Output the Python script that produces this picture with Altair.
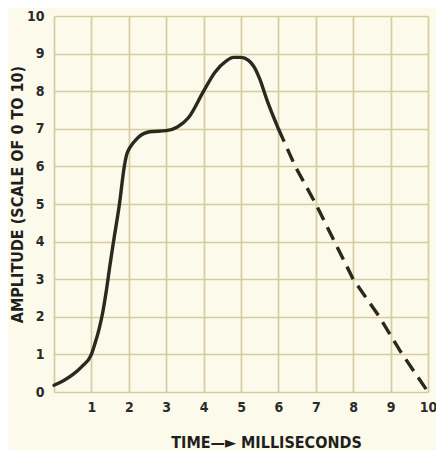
import altair as alt
import pandas as pd

# Solid portion of the waveform (time in ms, amplitude 0-10)
solid_t = [0.0, 0.25, 0.5, 0.75, 1.0, 1.1, 1.2, 1.3, 1.4, 1.5, 1.6, 1.75, 1.88, 1.94,
           2.0, 2.1, 2.25, 2.56, 3.0, 3.3, 3.6, 4.0, 4.3, 4.6, 4.8, 5.0, 5.2, 5.35,
           5.5, 5.7, 6.0]
solid_a = [0.18, 0.3, 0.46, 0.68, 1.0, 1.3, 1.65, 2.1, 2.7, 3.4, 4.05, 5.0, 6.0, 6.3,
           6.45, 6.6, 6.77, 6.92, 6.95, 7.05, 7.3, 8.0, 8.5, 8.8, 8.9, 8.9, 8.82, 8.65,
           8.33, 7.75, 7.0]

# Dashed (extrapolated) portion
dash_t = [6.0, 6.45, 7.0, 7.5, 8.0, 8.7, 9.25, 10.0]
dash_a = [7.0, 6.0, 5.0, 4.0, 3.0, 2.0, 1.1, 0.0]

x_ticks = [0, 1, 2, 3, 4, 5, 6, 7, 8, 9, 10]
y_ticks = [0, 1, 2, 3, 4, 5, 6, 7, 8, 9, 10]

x_title = "TIME\u2014\u25BA MILLISECONDS"
y_title = "AMPLITUDE (SCALE OF 0 TO 10)"

solid = pd.DataFrame({"t": solid_t, "a": solid_a})
dashed = pd.DataFrame({"t": dash_t, "a": dash_a})

FONT = "DejaVu Sans Condensed"
INK = "#2a291f"
GRID = "#d6cca0"
BG = "#fcfaea"

x_enc = alt.X(
    "t:Q",
    scale=alt.Scale(domain=[0, 10], nice=False, zero=False),
    axis=alt.Axis(
        values=x_ticks,
        labelExpr="datum.value == 0 ? '' : datum.label",
        title=x_title,
        titleX=212, titleY=50, titleAlign="center", titleBaseline="middle",
        labelPadding=8,
    ),
)
y_enc = alt.Y(
    "a:Q",
    scale=alt.Scale(domain=[0, 10], nice=False),
    axis=alt.Axis(
        values=y_ticks,
        title=y_title,
        titleX=-37, titleY=178, titleAngle=270, titleAlign="center", titleBaseline="middle",
        labelPadding=10,
    ),
)

solid_line = alt.Chart(solid).mark_line(
    color=INK, strokeWidth=3.4, interpolate="monotone", strokeCap="round"
).encode(x=x_enc, y=y_enc)

dashed_line = alt.Chart(dashed).mark_line(
    color=INK, strokeWidth=3.4, strokeDash=[14, 8]
).encode(x=x_enc, y=y_enc)

chart = alt.layer(solid_line, dashed_line).properties(
    width=374,
    height=376,
    autosize=alt.AutoSizeParams(type="none"),
    padding={"left": 46, "top": 8, "right": 8, "bottom": 58},
    background=BG,
).configure_view(
    stroke=None
).configure_axis(
    grid=True,
    gridColor=GRID,
    gridWidth=1.7,
    gridOpacity=1,
    domain=False,
    ticks=False,
    labelFont=FONT,
    labelFontSize=14,
    labelFontWeight="bold",
    labelColor="#2b2b2b",
    titleFont=FONT,
    titleFontSize=16,
    titleFontWeight="bold",
    titleColor="#1f1f1f",
    labelFlush=False,
    labelOverlap=False,
)

chart.save("out.html", embed_options={"renderer": "svg", "actions": False})
